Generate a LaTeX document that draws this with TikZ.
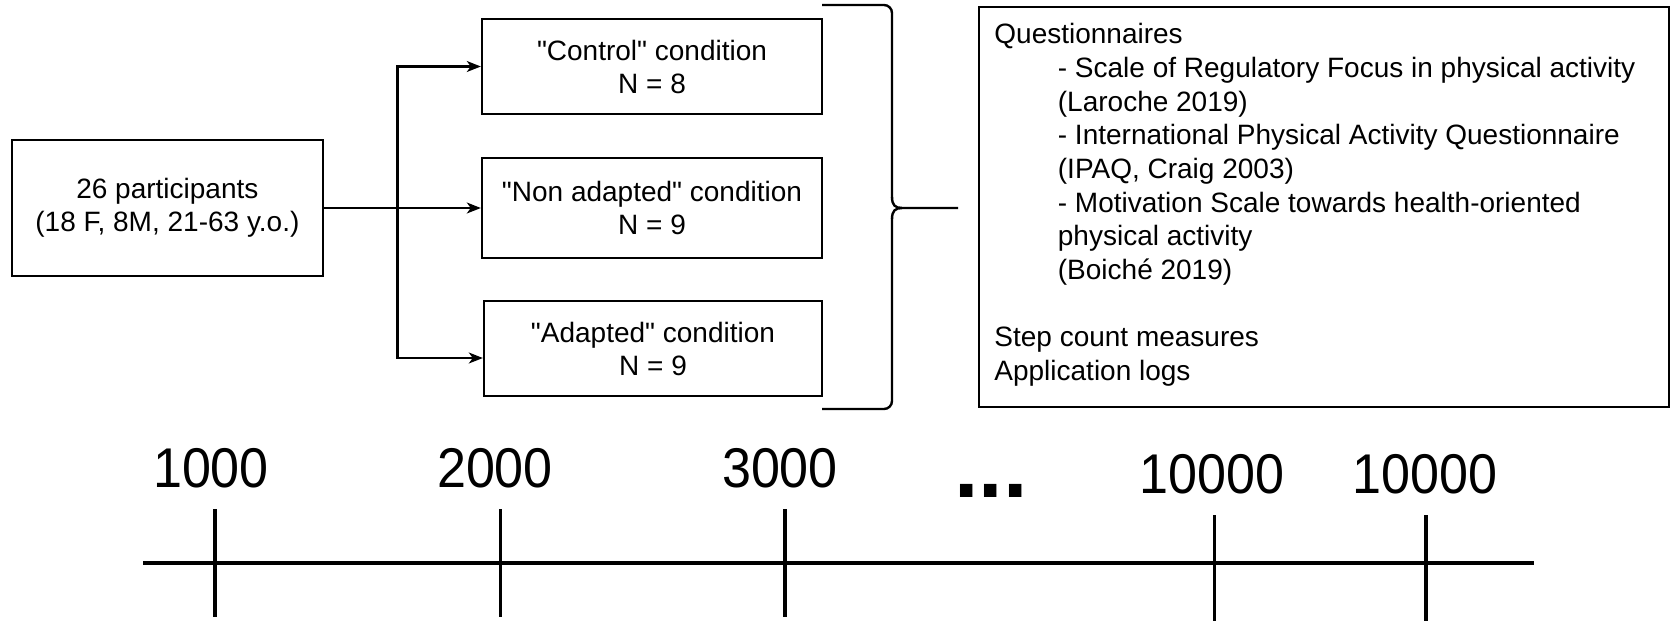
\documentclass[tikz,border=0pt]{standalone}
\usepackage{fontspec}
\setmainfont{Liberation Sans}[Ligatures=TeXOff]
\newfontfamily\numfont{Liberation Sans}[FakeStretch=0.93]
\usetikzlibrary{arrows.meta}
\begin{document}
\begin{tikzpicture}[x=0.5pt,y=-0.5pt,
  box/.style={draw=black, line width=1.2pt, rectangle, inner sep=0pt, align=center,
    font=\fontsize{14}{16.5}\selectfont},
  conn/.style={line width=1.1pt, -{Stealth[length=7pt,width=5.5pt,inset=2pt]}},
  brace/.style={line width=1.2pt},
  axis/.style={line width=2pt},
  tick/.style={line width=1.75pt},
  num/.style={inner sep=0pt, font=\numfont\fontsize{28}{30}\selectfont}
]
\useasboundingbox (0,0) rectangle (1671,621);

% left boxes
\node[box, minimum width=155.5pt, minimum height=68pt] (part) at (167.4,208) {26 participants\\(18 F, 8M, 21-63 y.o.)};
\node[box, minimum width=170pt, minimum height=47.5pt] (ctrl) at (652,66.5) {"Control" condition\\N = 8};
\node[box, minimum width=170pt, minimum height=50pt] (nonad) at (652,208) {"Non adapted" condition\\N = 9};
\node[box, minimum width=169pt, minimum height=47.5pt] (adapt) at (653,348.5) {"Adapted" condition\\N = 9};

% connectors
\coordinate (split) at (397.5,208);
\draw[conn] (part.east) -- (nonad.west);
\draw[conn] (split) |- (ctrl.west);
\draw[conn] (split) |- ([yshift=-4.75pt]adapt.west);

% brace
\coordinate (btop) at (822,5);
\coordinate (bbot) at (822,409);
\coordinate (btip) at (902,208);
\coordinate (bend) at (958,208);
\draw[brace, rounded corners=4pt] (btop) -- (892,5) -- (892,198);
\draw[brace] (892,197) .. controls (892,205) and (895,208) .. (btip) -- (bend);
\draw[brace] (btip) .. controls (895,208) and (892,211) .. (892,219);
\draw[brace, rounded corners=4pt] (892,218) -- (892,409) -- (bbot);

% right box
\node[draw=black, line width=1.2pt, minimum width=345pt, minimum height=200pt, inner sep=0pt] (meas) at (1324,207) {};
\node[anchor=north west, inner sep=0pt, align=left, font=\fontsize{14}{16.85}\selectfont] (meastext) at (994,23) {Questionnaires\\
\hspace*{31.75pt}- Scale of Regulatory Focus in physical activity\\
\hspace*{31.75pt}(Laroche 2019)\\
\hspace*{31.75pt}- International Physical Activity Questionnaire\\
\hspace*{31.75pt}(IPAQ, Craig 2003)\\
\hspace*{31.75pt}- Motivation Scale towards health-oriented\\
\hspace*{31.75pt}physical activity\\
\hspace*{31.75pt}(Boiché 2019)\\
\mbox{}\\
Step count measures\\
Application logs};

% timeline
\coordinate (tl0) at (143,563);
\coordinate (tl1) at (1534,563);
\draw[axis] (tl0) -- (tl1);
\coordinate (t1a) at (215,509); \coordinate (t1b) at (215,617);
\coordinate (t2a) at (500.5,509); \coordinate (t2b) at (500.5,617);
\coordinate (t3a) at (785,509); \coordinate (t3b) at (785,617);
\coordinate (t4a) at (1214.5,515); \coordinate (t4b) at (1214.5,621);
\coordinate (t5a) at (1426,515); \coordinate (t5b) at (1426,621);
\draw[tick] (t1a) -- (t1b);
\draw[tick] (t2a) -- (t2b);
\draw[tick] (t3a) -- (t3b);
\draw[tick] (t4a) -- (t4b);
\draw[tick] (t5a) -- (t5b);
\node[num] (l1) at (211,468) {1000};
\node[num] (l2) at (495,468) {2000};
\node[num] (l3) at (780,468) {3000};
\node[inner sep=0pt, anchor=base, font=\fontsize{44}{50}\selectfont\bfseries] (dots) at (991,497) {...};
\node[num] (l4) at (1212,474) {10000};
\node[num] (l5) at (1425,474) {10000};
\end{tikzpicture}
\end{document}
